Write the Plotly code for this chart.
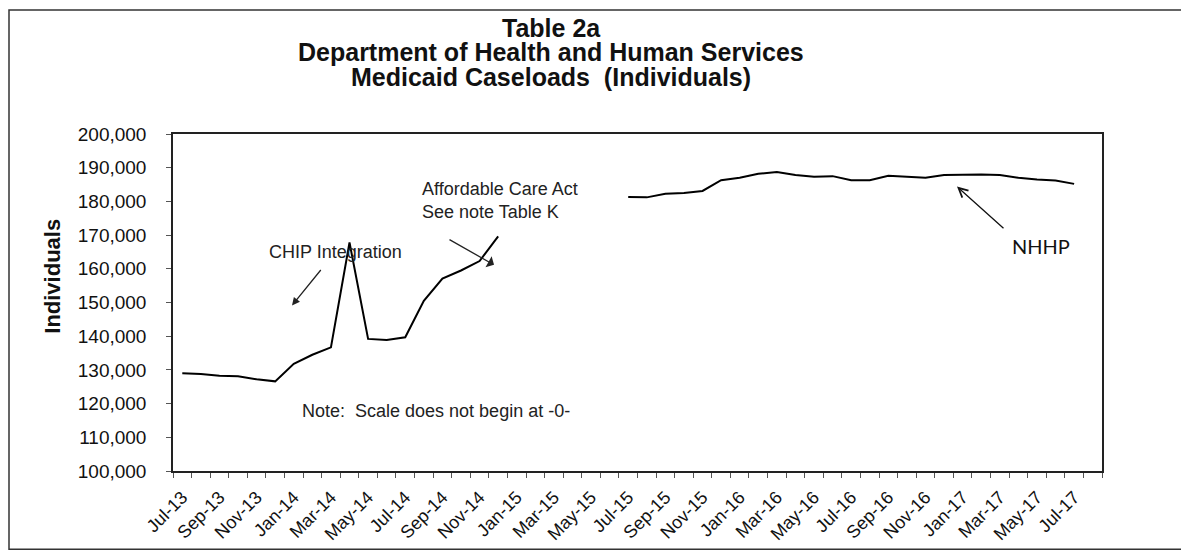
import plotly.graph_objects as go

# ---------------- data ----------------
months = ["Jul-13", "Aug-13", "Sep-13", "Oct-13", "Nov-13", "Dec-13",
          "Jan-14", "Feb-14", "Mar-14", "Apr-14", "May-14", "Jun-14",
          "Jul-14", "Aug-14", "Sep-14", "Oct-14", "Nov-14", "Dec-14",
          "Jan-15", "Feb-15", "Mar-15", "Apr-15", "May-15", "Jun-15",
          "Jul-15", "Aug-15", "Sep-15", "Oct-15", "Nov-15", "Dec-15",
          "Jan-16", "Feb-16", "Mar-16", "Apr-16", "May-16", "Jun-16",
          "Jul-16", "Aug-16", "Sep-16", "Oct-16", "Nov-16", "Dec-16",
          "Jan-17", "Feb-17", "Mar-17", "Apr-17", "May-17", "Jun-17",
          "Jul-17", "Aug-17"]

individuals = [129000, 128800, 128300, 128100, 127200, 126600,
               131800, 134500, 136700, 167800, 139200, 138900,
               139700, 150500, 157100, 159500, 162300, 169600,
               None, None, None, None, None, None,
               181300, 181200, 182300, 182500, 183100, 186300,
               187000, 188200, 188700, 187800, 187300, 187500,
               186300, 186300, 187600, 187300, 187000, 187800,
               188000, 188000, 187800, 187000, 186500, 186200,
               185200, None]

y_ticks = [100000, 110000, 120000, 130000, 140000, 150000,
           160000, 170000, 180000, 190000, 200000]

title_lines = ["Table 2a",
               "Department of Health and Human Services",
               "Medicaid Caseloads  (Individuals)"]

# ---------------- layout geometry (page pixels) ----------------
OFF = 8                     # default page margin around the plot div
W, H = 1189 - OFF, 556 - OFF
L, R, T, B = 173, 1102, 134, 474   # plot area in page pixels


def px(x):
    return (x - L) / (R - L)


def py(y):
    return (B - y) / (B - T)


xi = list(range(len(months)))

fig = go.Figure()
fig.add_trace(go.Scatter(
    x=xi, y=individuals, mode="lines",
    line=dict(color="black", width=2),
    connectgaps=False, showlegend=False, hoverinfo="skip"))

FONT = "Arial, Liberation Sans, sans-serif"

fig.update_layout(
    width=W, height=H,
    margin=dict(l=L - OFF, r=W - (R - OFF), t=T - OFF, b=H - (B - OFF), pad=0),
    paper_bgcolor="white", plot_bgcolor="white",
    font=dict(family=FONT, color="#111"),
    xaxis=dict(
        range=[-0.5, len(months) - 0.5],
        tickmode="array",
        tickvals=xi[::2],
        ticktext=months[::2],
        tickangle=-45,
        ticks="",
        ticklabelstandoff=7,
        tickfont=dict(size=18, family=FONT, color="#111"),
        showgrid=False, zeroline=False,
        showline=True, linecolor="#222", linewidth=1.5, mirror=True,
        minor=dict(tick0=-0.5, dtick=1, ticks="outside", ticklen=5,
                   tickcolor="#555", tickwidth=1, showgrid=False),
    ),
    yaxis=dict(
        range=[100000, 200000],
        tickmode="array",
        tickvals=y_ticks,
        tickformat=",",
        ticks="outside", ticklen=5, tickcolor="#555",
        tickfont=dict(size=19, family=FONT, color="#111"),
        showgrid=False, zeroline=False,
        showline=True, linecolor="#222", linewidth=1.5, mirror=True,
        ticklabelstandoff=16,
    ),
)

# outer chart border
fig.add_shape(type="rect", xref="paper", yref="paper",
              x0=px(OFF + 1), x1=px(1185), y0=py(553), y1=py(OFF + 1),
              line=dict(color="#333", width=1.5), fillcolor="rgba(0,0,0,0)",
              layer="below")

# title (three centred lines)
for txt, yc in zip(title_lines, [27, 51, 76]):
    fig.add_annotation(text="<b>" + txt + "</b>", xref="paper", yref="paper",
                       x=px(551), y=py(yc), xanchor="center", yanchor="middle",
                       showarrow=False, font=dict(size=25, family=FONT, color="#111"))

# y-axis title
fig.add_annotation(text="<b>Individuals</b>", xref="paper", yref="paper",
                   x=px(53), y=py(278), xanchor="center", yanchor="middle",
                   textangle=-90, showarrow=False,
                   font=dict(size=22, family=FONT, color="#111"))

# CHIP Integration
fig.add_annotation(text="CHIP Integration", xref="paper", yref="paper",
                   x=px(335), y=py(253), xanchor="center", yanchor="middle",
                   showarrow=False, font=dict(size=18, family=FONT, color="#222"))
fig.add_annotation(text="", xref="paper", yref="paper",
                   x=px(292), y=py(307), ax=30, ay=-37,
                   showarrow=True, arrowhead=2, arrowsize=1.2, arrowwidth=1.3,
                   arrowcolor="#222")

# Affordable Care Act
fig.add_annotation(text="Affordable Care Act<br>See note Table K",
                   xref="paper", yref="paper",
                   x=px(420), y=py(201), xanchor="left", yanchor="middle",
                   align="left", showarrow=False,
                   font=dict(size=18, family=FONT, color="#222"))
fig.add_annotation(text="", xref="paper", yref="paper",
                   x=px(494), y=py(266), ax=-46, ay=-26,
                   showarrow=True, arrowhead=1, arrowsize=1.6, arrowwidth=1.3,
                   arrowcolor="#222")

# Note
fig.add_annotation(text="Note:\u00a0 Scale does not begin at -0-",
                   xref="paper", yref="paper",
                   x=px(300), y=py(413), xanchor="left", yanchor="middle",
                   showarrow=False, font=dict(size=18, family=FONT, color="#222"))

# NHHP
fig.add_annotation(text="NHHP", xref="paper", yref="paper",
                   x=px(1010), y=py(247), xanchor="left", yanchor="middle",
                   showarrow=False, font=dict(size=20, family="Lato, Carlito, sans-serif", color="#111"))
fig.add_annotation(text="", xref="paper", yref="paper",
                   x=px(957), y=py(187), ax=48, ay=43,
                   showarrow=True, arrowhead=5, arrowsize=1.4, arrowwidth=1.3,
                   arrowcolor="#111")

fig.write_html("out.html")
